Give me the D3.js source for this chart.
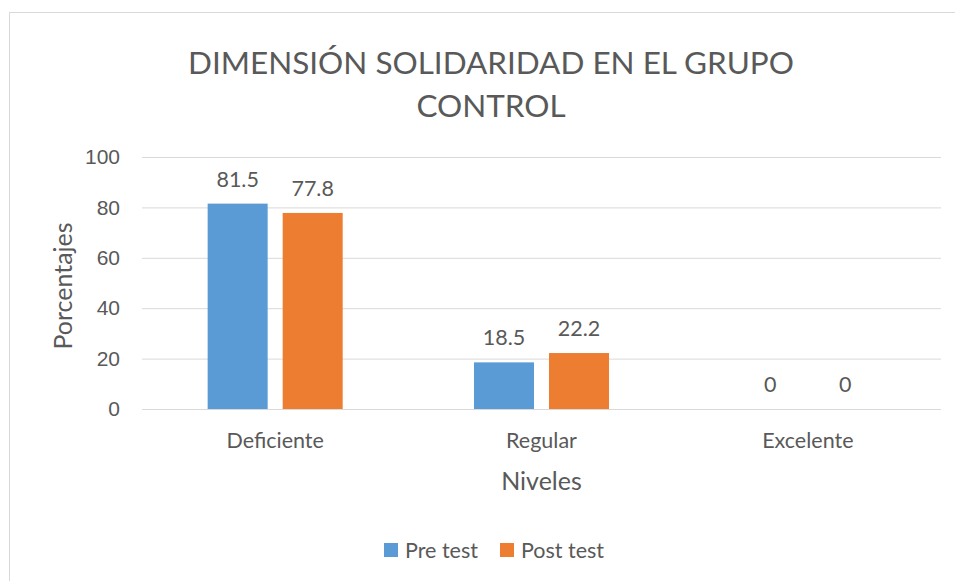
<!DOCTYPE html>
<html>
<head>
<meta charset="utf-8">
<script src="https://cdn.jsdelivr.net/npm/d3@7"></script>
<style>
  html, body { margin: 0; padding: 0; background: #fff; }
  svg { display: block; font-family: Lato, "Open Sans", sans-serif; }
</style>
</head>
<body>
<svg id="chart" width="955" height="581"></svg>
<script>
// chart data
const categories = ['Deficiente', 'Regular', 'Excelente'];
const seriesNames = ['Pre test', 'Post test'];
const preTest = [81.5, 18.5, 0];
const postTest = [77.8, 22.2, 0];
const yTicks = [0, 20, 40, 60, 80, 100];
const titleLines = ['DIMENSIÓN SOLIDARIDAD EN EL GRUPO', 'CONTROL'];

const colors = ['#5B9BD5', '#ED7D31'];
const textColor = '#595959';
const gridColor = '#D9D9D9';

// plot area
const plot = { left: 142, right: 941, top: 157, bottom: 409 };

const svg = d3.select('#chart');

// outer chart border (right/bottom edges fall outside the picture)
svg.append('rect')
    .attr('x', 9.5).attr('y', 12.5)
    .attr('width', 980).attr('height', 600)
    .attr('fill', '#fff')
    .attr('stroke', '#D9D9D9');

const y = d3.scaleLinear().domain([0, 100]).range([plot.bottom, plot.top]);
const x0 = d3.scaleBand().domain(categories).range([plot.left, plot.right]);
const x1 = d3.scaleBand().domain(seriesNames)
    .range([0, x0.bandwidth()])
    .paddingInner(0.2)
    .paddingOuter(0.875);

// gridlines + tick labels
const yAxis = d3.axisLeft(y)
    .tickValues(yTicks)
    .tickSize(-(plot.right - plot.left))
    .tickPadding(22);

const gy = svg.append('g')
    .attr('transform', `translate(${plot.left},0)`)
    .call(yAxis);
gy.select('.domain').remove();
gy.selectAll('.tick line').attr('stroke', gridColor).attr('stroke-width', 1);
gy.selectAll('.tick text')
    .attr('fill', textColor)
    .style('font-size', '21px');

// rows of values per category
const rows = categories.map((c, i) => ({ cat: c, vals: [preTest[i], postTest[i]] }));

const groups = svg.append('g').selectAll('g')
    .data(rows)
    .join('g')
    .attr('transform', d => `translate(${x0(d.cat)},0)`);

groups.selectAll('rect')
    .data(d => d.vals.map((v, j) => ({ s: seriesNames[j], v: v, j: j })))
    .join('rect')
    .attr('x', d => x1(d.s))
    .attr('y', d => y(d.v))
    .attr('width', x1.bandwidth())
    .attr('height', d => y(0) - y(d.v))
    .attr('fill', d => colors[d.j]);

// data labels above bars
groups.selectAll('text')
    .data(d => d.vals.map((v, j) => ({ s: seriesNames[j], v: v })))
    .join('text')
    .attr('x', d => x1(d.s) + x1.bandwidth() / 2)
    .attr('y', d => y(d.v) - 17)
    .attr('text-anchor', 'middle')
    .attr('fill', textColor)
    .style('font-size', '21.5px')
    .text(d => d.v);

// category labels
svg.append('g').selectAll('text')
    .data(categories)
    .join('text')
    .attr('x', d => x0(d) + x0.bandwidth() / 2)
    .attr('y', 448)
    .attr('text-anchor', 'middle')
    .attr('fill', textColor)
    .style('font-size', '21.5px')
    .text(d => d);

// axis titles
svg.append('text')
    .attr('x', (plot.left + plot.right) / 2)
    .attr('y', 490)
    .attr('text-anchor', 'middle')
    .attr('fill', textColor)
    .style('font-size', '25px')
    .text('Niveles');

svg.append('text')
    .attr('transform', 'translate(72,286) rotate(-90)')
    .attr('text-anchor', 'middle')
    .attr('fill', textColor)
    .style('font-size', '25px')
    .text('Porcentajes');

// title, two lines
const title = svg.append('g');
title.selectAll('text')
    .data(titleLines)
    .join('text')
    .attr('x', 491)
    .attr('y', (d, i) => 74 + i * 43)
    .attr('text-anchor', 'middle')
    .attr('fill', textColor)
    .style('font-size', '36px')
    .text(d => d);
// fit first line to the reference width
const firstW = title.select('text').node().getComputedTextLength();
title.selectAll('text').style('font-size', (36 * 606 / firstW) + 'px');

// legend
const legend = svg.append('g').attr('transform', 'translate(384,543)');
const legX = [0, 116];
seriesNames.forEach((s, i) => {
    const lg = legend.append('g').attr('transform', `translate(${legX[i]},0)`);
    lg.append('rect').attr('width', 14).attr('height', 14).attr('fill', colors[i]);
    lg.append('text')
        .attr('x', 21).attr('y', 14.5)
        .attr('fill', textColor)
        .style('font-size', '21.5px')
        .text(s);
});
</script>
</body>
</html>
